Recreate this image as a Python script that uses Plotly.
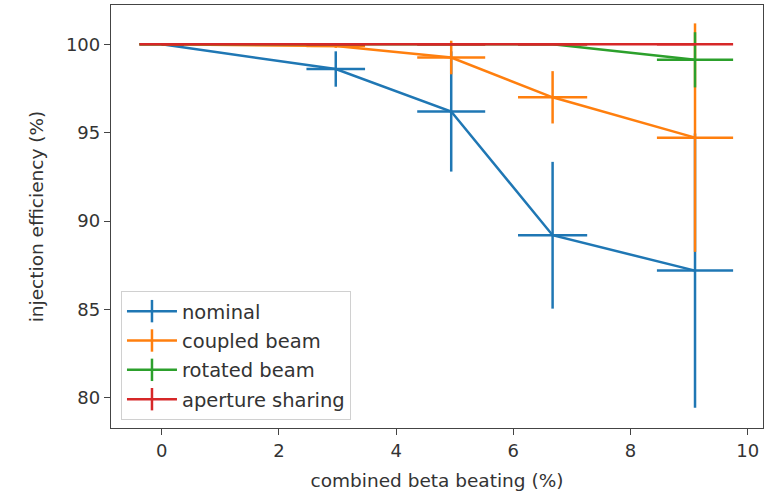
import plotly.graph_objects as go

# ---- data ----
beta_beating = [0.0, 2.97, 4.94, 6.67, 9.10]
beta_err = [0.38, 0.50, 0.58, 0.59, 0.65]

nominal = [100.0, 98.6, 96.2, 89.2, 87.2]
nominal_err = [0.0, 1.0, 3.4, 4.15, 7.75]

coupled = [100.0, 99.9, 99.25, 97.0, 94.72]
coupled_err = [0.0, 0.1, 0.95, 1.48, 6.46]

rotated = [100.0, 100.0, 100.0, 100.0, 99.12]
rotated_err = [0.0, 0.0, 0.0, 0.0, 1.56]

aperture = [100.0, 100.0, 100.0, 100.0, 100.0]
aperture_err = [0.0, 0.0, 0.0, 0.0, 0.0]

names = ["nominal", "coupled beam", "rotated beam", "aperture sharing"]
series = [nominal, coupled, rotated, aperture]
errors = [nominal_err, coupled_err, rotated_err, aperture_err]
colors = ["#1f77b4", "#ff7f0e", "#2ca02c", "#d62728"]

x_ticks = [0, 2, 4, 6, 8, 10]
y_ticks = [80, 85, 90, 95, 100]

FONT = "DejaVu Sans"
TXT = "#333333"
LW = 2.5

fig = go.Figure()
for name, ys, es, c in zip(names, series, errors, colors):
    fig.add_trace(go.Scatter(
        x=beta_beating, y=ys, mode="lines", name=name, showlegend=False,
        line=dict(color=c, width=LW),
        error_x=dict(type="data", array=beta_err, color=c, thickness=LW, width=0),
        error_y=dict(type="data", array=es, color=c, thickness=LW, width=0),
    ))
# legend entries (cross symbols like matplotlib errorbar handles)
for i, (name, c) in enumerate(zip(names, colors)):
    fig.add_trace(go.Scatter(
        x=[None], y=[None], mode="lines+markers", name=name,
        legendgroup=f"g{i}",
        line=dict(color=c, width=LW),
        marker=dict(symbol="line-ns", size=16, line=dict(color=c, width=LW)),
    ))

axis_common = dict(
    showline=True, mirror=True, linecolor="#444444", linewidth=1.3,
    ticks="outside", ticklen=6, tickwidth=1.3, tickcolor="#444444",
    showgrid=False, zeroline=False,
    tickfont=dict(family=FONT, size=18, color=TXT),
)

fig.update_layout(
    width=772, height=493,
    margin=dict(l=111, r=9, t=5, b=65),
    paper_bgcolor="white", plot_bgcolor="white",
    font=dict(family=FONT, size=18, color=TXT),
    xaxis=dict(range=[-0.865, 10.26], tickvals=x_ticks,
               title=dict(text="combined beta beating (%)", standoff=14,
                          font=dict(family=FONT, size=18.5, color=TXT)),
               **axis_common),
    yaxis=dict(range=[78.30, 102.22], tickvals=y_ticks,
               title=dict(text="injection efficiency (%)", standoff=17,
                          font=dict(family=FONT, size=18.5, color=TXT)),
               **axis_common),
    legend=dict(x=0.0153, y=0.019, xanchor="left", yanchor="bottom",
                bgcolor="white", bordercolor="#d0d0d0", borderwidth=1,
                font=dict(family=FONT, size=19.5, color=TXT),
                itemwidth=50, tracegroupgap=1),
    showlegend=True,
)

fig.write_html("out.html")
